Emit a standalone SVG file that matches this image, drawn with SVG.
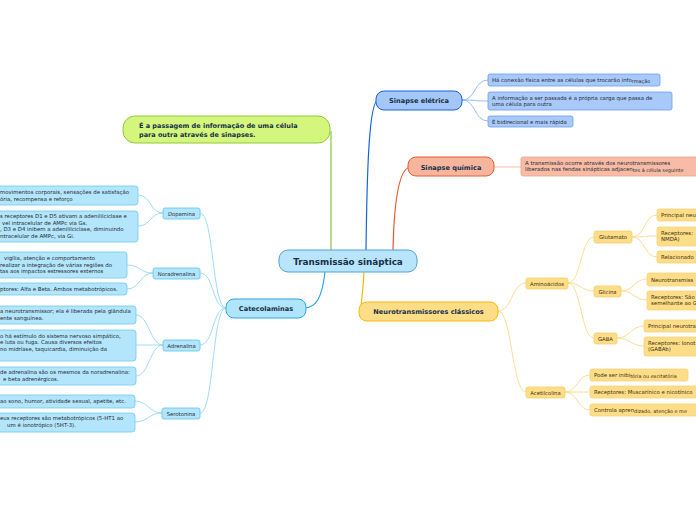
<svg xmlns="http://www.w3.org/2000/svg" width="696" height="520" viewBox="0 0 696 520">
<style>
text{font-family:"DejaVu Sans","Verdana",sans-serif}
.main{font-weight:bold;fill:#17304a}
.mt{font-size:6.6px;text-anchor:middle}
.sub{font-size:5.3px;fill:#1f2a33;text-anchor:middle}
.leaf{font-size:5.4px;fill:#1f2a33}
.ysub{font-size:5.3px;fill:#3a2e10;text-anchor:middle}
.yleaf{font-size:5.4px;fill:#3a2e10}
.bsub{fill:#b3e5fc;stroke:#5ec4f0;stroke-width:0.8}
.bleaf{fill:#b3e5fc;stroke:#6ccbf2;stroke-width:0.8}
.ysubr{fill:#fedd88;stroke:#f8cf6a;stroke-width:0.8}
.yleafr{fill:#fedd88;stroke:#f8d47a;stroke-width:0.8}
.eleaf{fill:#a9c9fa;stroke:#6c9ff0;stroke-width:0.8}
.c{fill:none}
.cb{stroke:#93d7f5;stroke-width:0.9}
.cy{stroke:#fcd98a;stroke-width:0.9}
.ce{stroke:#8db4f2;stroke-width:0.9}
</style>
<g id="connectors" class="c">
<path d="M331,250 V131" stroke="#8cc63f" stroke-width="1.2"/>
<path d="M366,250 C367,170 369,102 378,100" stroke="#1565d8" stroke-width="1.2"/>
<path d="M393,250 C394,205 398,169 410,167" stroke="#e8552b" stroke-width="1.2"/>
<path d="M325,272 C322,298 316,308 304,308" stroke="#2aa6e6" stroke-width="1.2"/>
<path d="M364,272 C363,292 361,302 361,311" stroke="#f5b800" stroke-width="1.2"/>
<path class="ce" d="M462,100 C476,100 474,80 488,80"/>
<path class="ce" d="M462,100 C476,100 474,101 488,101"/>
<path class="ce" d="M462,100 C476,100 474,121 488,121"/>
<path d="M494,167 H521" stroke="#f6b3a0" stroke-width="0.9"/>
<path class="cb" d="M226,308 C212,308 214,213 200,213"/>
<path class="cb" d="M226,308 C212,308 214,273 200,273"/>
<path class="cb" d="M226,308 C212,308 214,345 200,345"/>
<path class="cb" d="M226,308 C212,308 214,413 200,413"/>
<path class="cb" d="M163,213 C150,213 151,195 138,195"/>
<path class="cb" d="M163,213 C150,213 151,226 138,226"/>
<path class="cb" d="M153,273 C140,273 140,265 127,265"/>
<path class="cb" d="M153,273 C140,273 140,289 127,289"/>
<path class="cb" d="M163,345 C150,345 149,315 136,315"/>
<path class="cb" d="M163,345 C150,345 149,345 136,345"/>
<path class="cb" d="M163,345 C150,345 149,376 136,376"/>
<path class="cb" d="M162,413 C149,413 148,401 135,401"/>
<path class="cb" d="M162,413 C149,413 148,422 135,422"/>
<path class="cy" d="M498,311 C512,311 512,283 526,283"/>
<path class="cy" d="M498,311 C512,311 512,392 526,392"/>
<path class="cy" d="M568,283 C581,283 581,237 594,237"/>
<path class="cy" d="M568,283 C581,283 581,291 594,291"/>
<path class="cy" d="M568,283 C581,283 581,338 594,338"/>
<path class="cy" d="M632,237 C645,237 644,215 657,215"/>
<path class="cy" d="M632,237 C645,237 644,236 657,236"/>
<path class="cy" d="M632,237 C645,237 644,257 657,257"/>
<path class="cy" d="M621,291 C634,291 634,279 647,279"/>
<path class="cy" d="M621,291 C634,291 634,300 647,300"/>
<path class="cy" d="M617,338 C630,338 631,326 644,326"/>
<path class="cy" d="M617,338 C630,338 631,346 644,346"/>
<path class="cy" d="M565,392 C578,392 577,375 590,375"/>
<path class="cy" d="M565,392 C578,392 577,392 590,392"/>
<path class="cy" d="M565,392 C578,392 577,410 590,410"/>
</g>
<g id="center">
<rect x="279" y="250" width="138" height="22" rx="9" fill="#b8e5fb" stroke="#4aa3df" stroke-width="1"/>
<text class="main" x="348" y="264.5" font-size="8.8" text-anchor="middle">Transmissão sináptica</text>
</g>
<g id="definicao">
<rect x="123" y="116" width="207" height="27" rx="12" fill="#d4f67c" stroke="#93c83c" stroke-width="1"/>
<text class="main" font-size="6.5" x="139" y="127.5">É a passagem de informação de uma célula</text>
<text class="main" font-size="6.5" x="139" y="136.5">para outra através de sinapses.</text>
</g>
<g id="sinapse-eletrica">
<rect x="376" y="91" width="86" height="19" rx="8" fill="#a5c7f8" stroke="#1565d8" stroke-width="1"/>
<text class="main mt" x="419" y="103" fill="#0e3b3b">Sinapse elétrica</text>
</g>
<g id="eletrica-1">
<rect class="eleaf" x="488" y="74" width="172" height="12" rx="2"/>
<text class="leaf" x="492" y="81.5">Há conexão física entre as células que trocarão info<tspan font-size="4.9" dy="1.2">rmação</tspan></text>
</g>
<g id="eletrica-2">
<rect class="eleaf" x="488" y="92" width="184" height="18" rx="2"/>
<text class="leaf" x="492" y="99.5">A informação a ser passada é a própria carga que passa de</text>
<text class="leaf" x="492" y="106">uma célula para outra</text>
</g>
<g id="eletrica-3">
<rect class="eleaf" x="488" y="116" width="85" height="11" rx="2"/>
<text class="leaf" x="492" y="123.5">É bidirecional e mais rápida</text>
</g>
<g id="sinapse-quimica">
<rect x="408" y="157" width="86" height="19" rx="8" fill="#f8b59e" stroke="#e65c30" stroke-width="1"/>
<text class="main mt" x="451" y="169.5" fill="#0e3b3b">Sinapse química</text>
</g>
<g id="quimica-1">
<rect x="521" y="157" width="180" height="19" rx="2" fill="#f8bba6" stroke="#f3a187" stroke-width="0.8"/>
<text class="leaf" x="525" y="164.5">A transmissão ocorre através dos neurotransmissores</text>
<text class="leaf" x="525" y="171">liberados nas fendas sinápticas adjacen<tspan font-size="4.9" dy="1.2">tes à célula seguinte</tspan></text>
</g>
<g id="catecolaminas">
<rect x="226" y="299" width="80" height="19" rx="8" fill="#b0e4fa" stroke="#2aa6e6" stroke-width="1"/>
<text class="main mt" x="266" y="311">Catecolaminas</text>
</g>
<g id="neuro-classicos">
<rect x="359" y="302" width="139" height="19" rx="8" fill="#fedd87" stroke="#f5b90a" stroke-width="1"/>
<text class="main mt" x="428.5" y="314" font-size="6.4">Neurotransmissores clássicos</text>
</g>
<g id="dopamina">
<rect class="bsub" x="163" y="208" width="37" height="11" rx="2"/>
<text class="sub" x="181.5" y="215.5">Dopamina</text>
</g>
<g id="dopamina-1">
<rect class="bleaf" x="-5" y="186" width="143" height="19" rx="3"/>
<text class="leaf" x="0" y="194">movimentos corporais, sensações de satisfação</text>
<text class="leaf" x="0" y="200.5">ória, recompensa e reforço</text>
</g>
<g id="dopamina-2">
<rect class="bleaf" x="-5" y="211" width="143" height="31" rx="3"/>
<text class="leaf" x="0" y="218">s receptores D1 e D5 ativam a adenililciclase e</text>
<text class="leaf" x="2" y="224.5">vel intracelular de AMPc via Gs.</text>
<text class="leaf" x="0" y="231">, D3 e D4 inibem a adenililciclase, diminuindo</text>
<text class="leaf" x="0" y="237.5">ntracelular de AMPc, via Gi.</text>
</g>
<g id="noradrenalina">
<rect class="bsub" x="153" y="268" width="47" height="11" rx="2"/>
<text class="sub" x="176.5" y="275.5">Noradrenalina</text>
</g>
<g id="noradrenalina-1">
<rect class="bleaf" x="-5" y="252" width="132" height="26" rx="3"/>
<text class="leaf" x="4" y="260">vigília, atenção e comportamento</text>
<text class="leaf" x="0" y="266.5">realizar a integração de várias regiões do</text>
<text class="leaf" x="0" y="273">tas aos impactos estressores externos</text>
</g>
<g id="noradrenalina-2">
<rect class="bleaf" x="-5" y="283" width="132" height="12" rx="3"/>
<text class="leaf" x="0" y="291">ptores: Alfa e Beta. Ambos metabotrópicos.</text>
</g>
<g id="adrenalina">
<rect class="bsub" x="163" y="340" width="37" height="11" rx="2"/>
<text class="sub" x="181.5" y="347.5">Adrenalina</text>
</g>
<g id="adrenalina-1">
<rect class="bleaf" x="-5" y="306" width="141" height="18" rx="3"/>
<text class="leaf" x="0" y="313">a neurotransmissor; ela é liberada pela glândula</text>
<text class="leaf" x="0" y="319.5">ente sanguínea.</text>
</g>
<g id="adrenalina-2">
<rect class="bleaf" x="-5" y="330" width="141" height="31" rx="3"/>
<text class="leaf" x="0" y="337.5">o há estímulo do sistema nervoso simpático,</text>
<text class="leaf" x="0" y="344">e luta ou fuga. Causa diversos efeitos</text>
<text class="leaf" x="0" y="350.5">no midríase, taquicardia, diminuição da</text>
</g>
<g id="adrenalina-3">
<rect class="bleaf" x="-5" y="367" width="141" height="18" rx="3"/>
<text class="leaf" x="0" y="374">de adrenalina são os mesmos da noradrenalina:</text>
<text class="leaf" x="3" y="380.5">e beta adrenérgicos.</text>
</g>
<g id="serotonina">
<rect class="bsub" x="162" y="408" width="38" height="11" rx="2"/>
<text class="sub" x="181" y="415.5">Serotonina</text>
</g>
<g id="serotonina-1">
<rect class="bleaf" x="-5" y="395" width="140" height="13" rx="3"/>
<text class="leaf" x="0" y="403">ao sono, humor, atividade sexual, apetite, etc.</text>
</g>
<g id="serotonina-2">
<rect class="bleaf" x="-5" y="413" width="140" height="19" rx="3"/>
<text class="leaf" x="0" y="420">eus receptores são metabotrópicos (5-HT1 ao</text>
<text class="leaf" x="7" y="426.5">um é ionotrópico (5HT-3).</text>
</g>
<g id="aminoacidos">
<rect class="ysubr" x="526" y="278" width="42" height="11" rx="2"/>
<text class="ysub" x="547" y="285.5">Aminoácidos</text>
</g>
<g id="glutamato">
<rect class="ysubr" x="594" y="231" width="38" height="12" rx="2"/>
<text class="ysub" x="613" y="239">Glutamato</text>
</g>
<g id="glutamato-1">
<rect class="yleafr" x="657" y="209" width="50" height="12" rx="2"/>
<text class="yleaf" x="661" y="217">Principal neu</text>
</g>
<g id="glutamato-2">
<rect class="yleafr" x="657" y="227" width="50" height="19" rx="2"/>
<text class="yleaf" x="661" y="234.5">Receptores:</text>
<text class="yleaf" x="661" y="241">NMDA)</text>
</g>
<g id="glutamato-3">
<rect class="yleafr" x="657" y="251" width="50" height="12" rx="2"/>
<text class="yleaf" x="661" y="259">Relacionado</text>
</g>
<g id="glicina">
<rect class="ysubr" x="594" y="286" width="27" height="11" rx="2"/>
<text class="ysub" x="607.5" y="293.5">Glicina</text>
</g>
<g id="glicina-1">
<rect class="yleafr" x="647" y="273" width="60" height="13" rx="2"/>
<text class="yleaf" x="651" y="281.5">Neurotransmiss</text>
</g>
<g id="glicina-2">
<rect class="yleafr" x="647" y="291" width="60" height="19" rx="2"/>
<text class="yleaf" x="651" y="298.5">Receptores: São</text>
<text class="yleaf" x="651" y="305">semelhante ao G</text>
</g>
<g id="gaba">
<rect class="ysubr" x="594" y="333" width="23" height="11" rx="2"/>
<text class="ysub" x="605.5" y="340.5">GABA</text>
</g>
<g id="gaba-1">
<rect class="yleafr" x="644" y="320" width="60" height="12" rx="2"/>
<text class="yleaf" x="648" y="328">Principal neurotra</text>
</g>
<g id="gaba-2">
<rect class="yleafr" x="644" y="337" width="60" height="19" rx="2"/>
<text class="yleaf" x="648" y="344.5">Receptores: Ionot</text>
<text class="yleaf" x="648" y="351">(GABAb)</text>
</g>
<g id="acetilcolina">
<rect class="ysubr" x="526" y="387" width="39" height="11" rx="2"/>
<text class="ysub" x="545.5" y="394.5">Acetilcolina</text>
</g>
<g id="acetilcolina-1">
<rect class="yleafr" x="590" y="369" width="98" height="12" rx="2"/>
<text class="yleaf" x="594" y="377">Pode ser inibi<tspan font-size="4.9" dy="0.8">tória ou excitatória</tspan></text>
</g>
<g id="acetilcolina-2">
<rect class="yleafr" x="590" y="386" width="115" height="12" rx="2"/>
<text class="yleaf" x="594" y="394">Receptores: Muscarínico e nicotínico</text>
</g>
<g id="acetilcolina-3">
<rect class="yleafr" x="590" y="404" width="115" height="12" rx="2"/>
<text class="yleaf" x="594" y="412">Controla apren<tspan font-size="4.9" dy="0.8">dizado, atenção e me</tspan></text>
</g>
</svg>
